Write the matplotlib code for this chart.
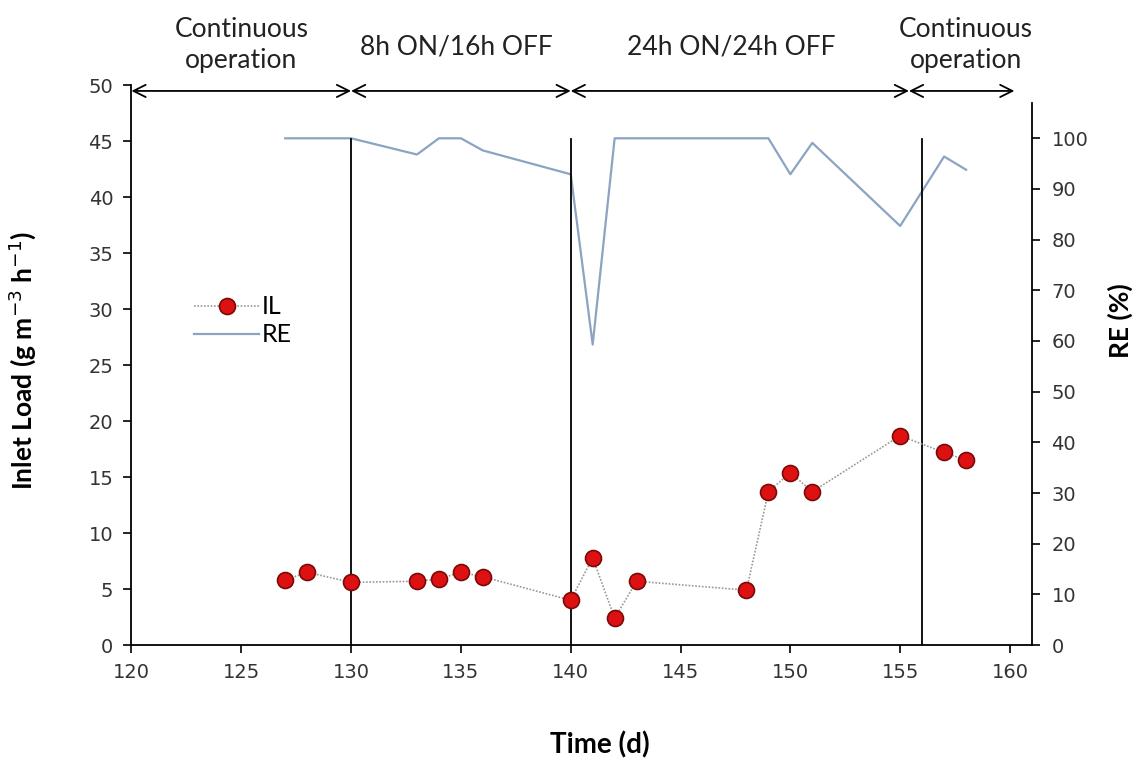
import matplotlib
matplotlib.use("Agg")
import matplotlib.pyplot as plt

# Data
days = [127, 128, 130, 133, 134, 135, 136, 140, 141, 142, 143, 148, 149, 150, 151, 155, 157, 158]
il = [5.8, 6.5, 5.6, 5.7, 5.9, 6.5, 6.1, 4.0, 7.8, 2.4, 5.7, 4.9, 13.7, 15.4, 13.7, 18.7, 17.2, 16.5]
re = [100, 100, 100, 96.8, 100, 100, 97.6, 92.9, 59.3, 100, 100, 100, 100, 92.9, 99.1, 82.7, 96.4, 93.8]
phase_lines = [130, 140, 156]
phase_arrows = [(120, 130), (130, 140), (140, 155.4), (155.4, 160.2)]
phase_labels = ["Continuous\noperation", "8h ON/16h OFF", "24h ON/24h OFF", "Continuous\noperation"]
phase_label_x = [125, 134.8, 147.3, 158.0]
phase_label_y = [53.6, 53.4, 53.4, 53.6]

fig = plt.figure(figsize=(11.47, 7.62), dpi=100)
ax = fig.add_axes([0.1146, 0.1535, 0.7851, 0.7345])
ax2 = ax.twinx()

ax.set_xlim(120, 161)
ax.set_ylim(0, 50)
ax2.set_ylim(0, 110.45)

# vertical phase lines
for x in phase_lines:
    ax.plot([x, x], [0, 45.2], color="black", lw=1.3, zorder=2)

# arrows
for (a, b) in phase_arrows:
    ax.annotate("", xy=(a, 49.5), xytext=(b, 49.5),
                arrowprops=dict(arrowstyle="<->", color="black", lw=1.3,
                                mutation_scale=22, shrinkA=0, shrinkB=0),
                annotation_clip=False)

for lab, x, y in zip(phase_labels, phase_label_x, phase_label_y):
    ax.text(x, y, lab, ha="center", va="center", fontsize=19,
            family="Lato", color="#222222", linespacing=1.28, clip_on=False)

l1, = ax.plot(days, il, linestyle=(0, (1, 1)), color="#999999", lw=1.2,
              marker="o", markersize=11.5, markerfacecolor="#dd1111",
              markeredgecolor="#7a0a0a", markeredgewidth=1.2, label="IL", zorder=4)
l2, = ax2.plot(days, re, color="#8aa4c2", lw=1.6, label="RE", zorder=3)

ax.set_zorder(ax2.get_zorder() + 1)
ax.patch.set_visible(False)

# spines
for s in ["top", "right"]:
    ax.spines[s].set_visible(False)
for s in ["top", "left", "bottom"]:
    ax2.spines[s].set_visible(False)
ax2.spines["right"].set_bounds(0, 107)
for sp in [ax.spines["left"], ax.spines["bottom"], ax2.spines["right"]]:
    sp.set_linewidth(1.3)
    sp.set_color("black")

ax.set_xticks(range(120, 161, 5))
ax.set_yticks(range(0, 51, 5))
ax2.set_yticks(range(0, 101, 10))
ax.tick_params(axis="both", direction="out", length=6, width=1.2, labelsize=14,
               labelcolor="#333333")
ax2.tick_params(axis="y", direction="out", length=6, width=1.2, labelsize=14,
                labelcolor="#333333")
ax.tick_params(axis="x", pad=7)
ax.tick_params(axis="y", pad=7)
ax2.tick_params(axis="y", pad=8)

ax.set_xlabel("Time (d)", fontsize=20, fontweight="bold", family="Lato")
ax.xaxis.set_label_coords(0.52, -0.155)
ax.set_ylabel("Inlet Load (g m$^{-3}$ h$^{-1}$)", fontsize=19, fontweight="bold",
              family="Lato")
ax.yaxis.set_label_coords(-0.104, 0.509)
ax2.set_ylabel("RE (%)", fontsize=19, fontweight="bold", family="Lato")
ax2.yaxis.set_label_coords(1.084, 0.58)

leg = ax.legend([l1, l2], ["IL", "RE"], loc="upper left",
                bbox_to_anchor=(0.045, 0.665), frameon=False,
                prop=dict(family="Lato", size=18), handlelength=2.6,
                handletextpad=0.1, labelspacing=0.2)

fig.savefig("out.png", dpi=100, facecolor="white")
